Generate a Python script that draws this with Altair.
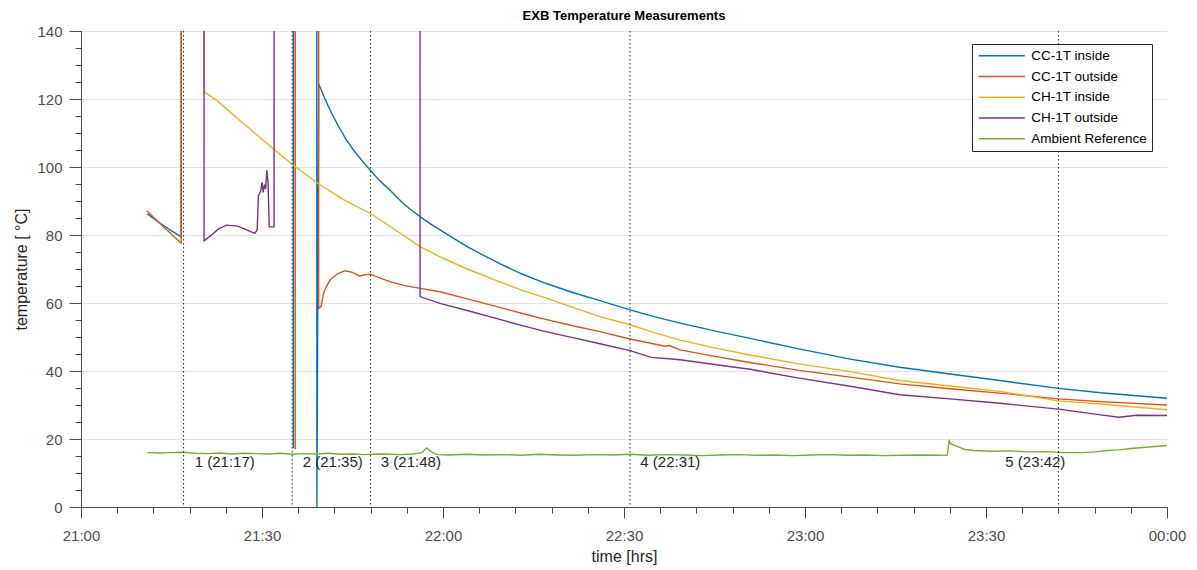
import altair as alt
import pandas as pd

# Time is minutes after 21:00. Readings stored as 999 are saturated / open-circuit
# samples from the logger; they sit far above the plotted range and get clipped.
OFF = 999

cc_inside = [
    (11.0, 86.2), (13.0, 83.6), (15.0, 81.2), (16.6, 79.5), (16.9, OFF),
    (35.1, OFF), (35.2, 17.3), (35.3, OFF),
    (39.0, OFF), (39.1, 0.0), (39.4, 124.4), (40.3, 120.6), (41.3, 116.7),
    (42.6, 112.2), (44.0, 107.9), (45.5, 104.2), (47.0, 101.0), (47.9, 99.1),
    (49.5, 96.0), (51.2, 93.2), (52.5, 90.9), (53.7, 88.8), (55.0, 87.0),
    (56.2, 85.4), (57.8, 83.4), (59.5, 81.5), (61.5, 79.3), (64.0, 76.6),
    (66.5, 74.2), (69.4, 71.6), (73.0, 68.6), (77.0, 65.8), (81.5, 63.1),
    (86.0, 60.7), (91.0, 58.0), (95.0, 56.0), (99.3, 54.1), (105.0, 51.8),
    (110.9, 49.6), (119.0, 46.5), (127.5, 43.5), (135.7, 41.1), (144.0, 39.1),
    (152.3, 37.2), (162.0, 34.9), (169.0, 33.6), (180.0, 32.0),
]

cc_outside = [
    (10.9, 87.1), (13.0, 83.5), (15.0, 80.2), (16.6, 77.6), (16.9, OFF),
    (35.4, OFF), (35.5, 17.0), (35.6, OFF),
    (39.3, OFF), (39.4, 58.4), (39.8, 59.0), (40.2, 62.9), (40.7, 64.9),
    (41.3, 66.8), (42.5, 68.6), (43.8, 69.5), (45.0, 69.0), (46.2, 67.9),
    (47.0, 68.3), (47.9, 68.5), (49.5, 67.4), (51.2, 66.3), (53.5, 65.2),
    (56.2, 64.3), (59.5, 63.3), (64.0, 61.2), (69.4, 58.7), (73.0, 57.0),
    (77.0, 55.2), (81.5, 53.3), (86.0, 51.6), (91.0, 49.4), (96.8, 47.3),
    (97.5, 47.5), (99.3, 46.2), (105.0, 44.3), (110.9, 42.5), (119.0, 40.2),
    (127.5, 38.2), (135.7, 36.2), (144.0, 34.8), (152.3, 33.5), (162.0, 31.8),
    (169.0, 31.0), (180.0, 30.0),
]

ch_inside = [
    (20.3, OFF), (20.4, 122.1), (22.5, 119.6), (24.7, 116.2), (28.0, 111.2),
    (31.9, 105.3), (35.2, 100.5), (39.4, 95.0), (43.5, 90.4), (47.9, 86.4),
    (51.5, 82.2), (56.2, 76.6), (59.5, 73.6), (64.0, 70.0), (69.4, 66.2),
    (73.0, 63.8), (77.0, 61.5), (81.5, 58.7), (86.0, 56.0), (91.0, 53.6),
    (95.0, 51.3), (99.3, 49.1), (105.0, 46.8), (110.9, 44.7), (119.0, 42.1),
    (127.5, 39.8), (135.7, 37.2), (144.0, 35.6), (152.3, 34.0), (162.0, 31.2),
    (169.0, 30.3), (180.0, 28.6),
]

ch_outside = [
    (20.3, OFF), (20.4, 78.3), (21.5, 79.8), (22.8, 81.8), (24.1, 82.9),
    (26.0, 82.6), (28.8, 80.5), (29.2, 81.5), (29.4, 91.5), (29.8, 93.0),
    (30.0, 95.5), (30.2, 92.5), (30.4, 94.8), (30.6, 93.5), (30.8, 99.0),
    (31.0, 95.5), (31.2, 82.4), (32.0, 82.4), (32.1, OFF),
    (56.1, OFF), (56.2, 61.9), (59.5, 59.9), (64.0, 57.8), (69.4, 55.2),
    (73.0, 53.4), (77.0, 51.6), (81.5, 49.8), (86.0, 48.0), (91.0, 46.0),
    (94.5, 44.0), (99.3, 43.3), (105.0, 41.9), (110.9, 40.5), (119.0, 37.9),
    (127.5, 35.5), (135.7, 33.0), (144.0, 31.8), (152.3, 30.5), (162.0, 28.8),
    (169.0, 27.1), (172.0, 26.4), (175.0, 27.0), (180.0, 26.9),
]

ambient = [
    (11, 16.0), (13, 15.9), (15, 16.0), (17, 16.1), (19, 15.8), (21, 15.7),
    (23, 15.9), (25, 15.6), (27, 15.8), (29, 15.7), (31, 15.6), (33, 15.8),
    (35, 15.5), (37, 15.7), (39, 15.6), (41, 15.8), (43, 15.5), (45, 15.6),
    (47, 15.4), (49, 15.6), (51, 15.5), (53, 15.4), (55, 15.6), (56.5, 16.0),
    (57.3, 17.4), (58, 16.3), (59, 15.4), (61, 15.3), (64, 15.5), (67, 15.3),
    (70, 15.4), (73, 15.2), (76, 15.5), (79, 15.3), (82, 15.2), (85, 15.4),
    (88, 15.3), (91, 15.5), (94, 15.2), (97, 15.4), (100, 15.3), (103, 15.1),
    (106, 15.3), (109, 15.4), (112, 15.2), (115, 15.3), (118, 15.1), (121, 15.3),
    (124, 15.4), (127, 15.2), (130, 15.3), (133, 15.1), (136, 15.2), (139, 15.3),
    (142, 15.2), (143.6, 15.3), (143.9, 19.8), (144.1, 18.6), (144.6, 18.3),
    (145.5, 17.6), (146.5, 16.9), (148, 16.6), (151, 16.4), (154, 16.5),
    (157, 16.2), (160, 16.3), (163, 16.0), (166, 16.0), (168, 16.2), (170, 16.6),
    (172, 16.8), (174, 17.2), (176, 17.5), (178, 17.8), (180, 18.1),
]

SERIES = ["CC-1T inside", "CC-1T outside", "CH-1T inside", "CH-1T outside", "Ambient Reference"]
COLORS = ["#0072BD", "#D95319", "#EDB120", "#7E2F8E", "#77AC30"]

# Test events: clock time of each marker
event_times = ["21:17", "21:35", "21:48", "22:31", "23:42"]
# caption start relative to its marker, in minutes
caption_shift = [1.85, 1.75, 1.7, 1.7, -8.8]
CAPTION_TEMP = 13.3


def minutes_after_21(hhmm):
    h, m = (int(p) for p in hhmm.split(":"))
    return (h - 21) * 60 + m


rows = []
for name, pts in zip(SERIES, [cc_inside, cc_outside, ch_inside, ch_outside, ambient]):
    for i, (t, v) in enumerate(pts):
        rows.append({"series": name, "t": t, "temp": v, "idx": i})
readings = pd.DataFrame(rows)

events = pd.DataFrame({
    "t": [minutes_after_21(s) for s in event_times],
    "label": [f"{i + 1} ({s})" for i, s in enumerate(event_times)],
})
events["lx"] = events["t"] + pd.Series(caption_shift)
events["ly"] = CAPTION_TEMP

FONT = "Liberation Sans"
AXIS_GRAY = "#4d4d4d"
TEXT_GRAY = "#262626"

x_scale = alt.Scale(domain=[0, 180], nice=False, zero=False)
y_scale = alt.Scale(domain=[0, 140], nice=False, zero=False)

x_major = alt.Axis(
    values=list(range(0, 181, 30)),
    labelExpr="timeFormat(datetime(2020, 0, 1, 21, datum.value), '%H:%M')",
    tickSize=11, tickColor=AXIS_GRAY, domainColor=AXIS_GRAY,
    labelFontSize=15, labelColor=AXIS_GRAY, labelPadding=10, labelFont=FONT,
    labelFlush=False, labelOverlap=False,
    title="time [hrs]", titleFontSize=16, titleFontWeight="normal",
    titleColor=TEXT_GRAY, titlePadding=5, titleFont=FONT,
    grid=False, orient="bottom",
)
x_minor = alt.Axis(
    values=list(range(0, 181, 6)), tickSize=6, tickColor=AXIS_GRAY,
    labels=False, domain=False, grid=False, title=None, orient="bottom",
)
y_major = alt.Axis(
    values=list(range(0, 141, 20)), tickSize=12, tickColor=AXIS_GRAY,
    domainColor=AXIS_GRAY, labelFontSize=15, labelColor=AXIS_GRAY,
    labelPadding=7, labelFont=FONT,
    title="temperature [ °C]", titleFontSize=16, titleFontWeight="normal",
    titleColor=TEXT_GRAY, titlePadding=7, titleFont=FONT,
    grid=True, gridColor="#e3e3e3", gridWidth=1, orient="left",
)
y_minor = alt.Axis(
    values=list(range(0, 141, 5)), tickSize=6, tickColor=AXIS_GRAY,
    labels=False, domain=False, grid=False, title=None, orient="left",
)

# legend swatch: a 46 px line drawn from the left edge of the symbol column
SWATCH = "M-1,0H8.2"

color = alt.Color(
    "series:N",
    scale=alt.Scale(domain=SERIES, range=COLORS),
    legend=alt.Legend(
        title=None, orient="none", legendX=891, legendY=13,
        symbolType=SWATCH, symbolSize=100, symbolStrokeWidth=1.5,
        labelFontSize=13.5, labelColor="#000000", labelFont=FONT, labelOffset=40.7,
        fillColor="#ffffff", strokeColor="#262626", padding=5, rowPadding=5.75,
    ),
)

layers = []
for k, name in enumerate(SERIES):
    layer = (
        alt.Chart(readings)
        .transform_filter(alt.datum.series == name)
        .mark_line(strokeWidth=1.4, clip=True)
        .encode(
            x=alt.X("t:Q", scale=x_scale, axis=None),
            y=alt.Y("temp:Q", scale=y_scale, axis=y_major if k == 0 else None),
            color=color,
            order=alt.Order("idx:Q"),
        )
    )
    layers.append(layer)

# invisible layer that carries the minor tick marks of both axes
minor_ticks = (
    alt.Chart(readings)
    .transform_filter(alt.datum.temp <= 140)
    .mark_point(opacity=0, clip=True)
    .encode(
        x=alt.X("t:Q", scale=x_scale, axis=x_minor),
        y=alt.Y("temp:Q", scale=y_scale, axis=y_minor),
    )
)

markers = (
    alt.Chart(events)
    .mark_rule(color="#262626", strokeWidth=1, strokeDash=[1.5, 2.5])
    .encode(x=alt.X("t:Q", scale=x_scale, axis=x_major))
)

captions = (
    alt.Chart(events)
    .mark_text(align="left", baseline="middle", fontSize=15, color=TEXT_GRAY, font=FONT)
    .encode(
        x=alt.X("lx:Q", scale=x_scale, axis=None),
        y=alt.Y("ly:Q", scale=y_scale, axis=None),
        text="label:N",
    )
)

chart = (
    alt.layer(minor_ticks, *layers, markers, captions)
    .resolve_axis(x="independent", y="independent")
    .properties(
        width=1086, height=476,
        autosize=alt.AutoSizeParams(type="none"),
        padding={"left": 81, "top": 31, "right": 30, "bottom": 63},
        title=alt.TitleParams(
            "EXB Temperature Measurements", fontSize=13, fontWeight="bold",
            font=FONT, color="#000000", anchor="middle", frame="group",
            baseline="alphabetic", offset=0, dy=9,
        ),
    )
    .configure(font=FONT)
    .configure_view(strokeWidth=0)
)

chart.save("out.html", embed_options={"renderer": "svg", "actions": False})
